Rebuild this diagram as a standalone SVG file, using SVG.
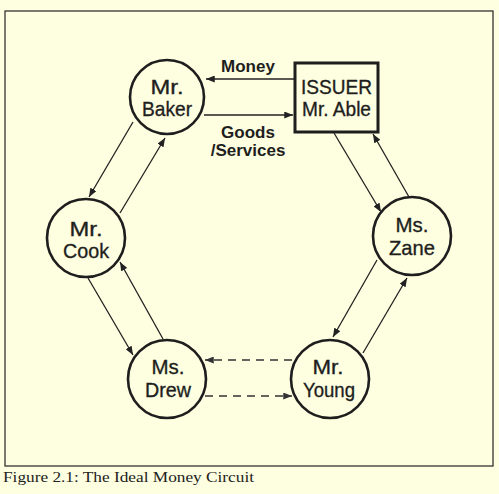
<svg xmlns="http://www.w3.org/2000/svg" width="499" height="494" viewBox="0 0 499 494">
<defs>
<marker id="ah" viewBox="0 0 10 8" refX="10" refY="4" markerWidth="9" markerHeight="7" markerUnits="userSpaceOnUse" orient="auto">
<path d="M0,0 L10,4 L0,8 Z" fill="#222"/>
</marker>
<marker id="ahd" viewBox="0 0 10 8" refX="10" refY="4" markerWidth="9" markerHeight="7" markerUnits="userSpaceOnUse" orient="auto">
<path d="M0,0 L10,4 L0,8 Z" fill="#333"/>
</marker>
</defs>
<style>
.node{fill:none;stroke:#1e1e1e;stroke-width:2.6}
.nt{font-family:"Liberation Sans",Arial,sans-serif;font-size:21px;fill:#1e1e1e;stroke:#1e1e1e;stroke-width:0.35;text-anchor:middle}
.lbl{font-family:"Liberation Sans",Arial,sans-serif;font-size:17px;font-weight:bold;fill:#1e1e1e;text-anchor:middle}
.c{fill:none;stroke:#222;stroke-width:1.3;marker-end:url(#ah)}
.d{fill:none;stroke:#333;stroke-width:1.6;stroke-dasharray:8,6;marker-end:url(#ahd)}
</style>
<rect width="499" height="494" fill="#fefee0"/>
<rect x="5" y="11" width="488" height="455" fill="none" stroke="#333" stroke-width="1.3"/>
<text x="3" y="482" font-family="'Liberation Serif','Times New Roman',serif" font-size="15.5" fill="#222" textLength="251" lengthAdjust="spacingAndGlyphs">Figure 2.1: The Ideal Money Circuit</text>

<g id="connectors">
<line class="c" x1="294" y1="79" x2="206" y2="79"/>
<line class="c" x1="204" y1="115" x2="293" y2="115"/>
<line class="c" x1="133" y1="122" x2="89" y2="197"/>
<line class="c" x1="120" y1="213" x2="165" y2="138"/>
<line class="c" x1="88" y1="278" x2="133" y2="355"/>
<line class="c" x1="163" y1="339" x2="120" y2="262"/>
<line class="d" x1="292" y1="360" x2="205" y2="360"/>
<line class="d" x1="205" y1="396" x2="292" y2="396"/>
<line class="c" x1="377" y1="260" x2="333" y2="337"/>
<line class="c" x1="363" y1="353" x2="407" y2="278"/>
<line class="c" x1="334" y1="133" x2="381" y2="212"/>
<line class="c" x1="409" y1="197" x2="373" y2="134"/>
</g>

<g id="labels">
<text class="lbl" x="248" y="72">Money</text>
<text class="lbl" x="248" y="138">Goods</text>
<text class="lbl" x="248" y="156">/Services</text>
</g>

<g id="able">
<rect x="295" y="63" width="83" height="69" fill="none" stroke="#1e1e1e" stroke-width="3"/>
<text class="nt" x="336.5" y="94" textLength="71" lengthAdjust="spacingAndGlyphs">ISSUER</text>
<text class="nt" x="336.5" y="116" textLength="69" lengthAdjust="spacingAndGlyphs">Mr. Able</text>
</g>
<g id="baker">
<circle class="node" cx="167" cy="97" r="37"/>
<text class="nt" x="167" y="94" textLength="33" lengthAdjust="spacingAndGlyphs">Mr.</text>
<text class="nt" x="167" y="116" textLength="50" lengthAdjust="spacingAndGlyphs">Baker</text>
</g>
<g id="cook">
<circle class="node" cx="86" cy="238" r="39"/>
<text class="nt" x="86" y="236" textLength="33" lengthAdjust="spacingAndGlyphs">Mr.</text>
<text class="nt" x="86" y="258" textLength="46" lengthAdjust="spacingAndGlyphs">Cook</text>
</g>
<g id="zane">
<circle class="node" cx="412" cy="236" r="39"/>
<text class="nt" x="412" y="232" textLength="33" lengthAdjust="spacingAndGlyphs">Ms.</text>
<text class="nt" x="412" y="255" textLength="46" lengthAdjust="spacingAndGlyphs">Zane</text>
</g>
<g id="drew">
<circle class="node" cx="167" cy="379" r="39"/>
<text class="nt" x="168" y="374" textLength="33" lengthAdjust="spacingAndGlyphs">Ms.</text>
<text class="nt" x="168" y="397" textLength="46" lengthAdjust="spacingAndGlyphs">Drew</text>
</g>
<g id="young">
<circle class="node" cx="330" cy="379" r="39"/>
<text class="nt" x="328" y="374" textLength="31" lengthAdjust="spacingAndGlyphs">Mr.</text>
<text class="nt" x="329" y="397" textLength="52" lengthAdjust="spacingAndGlyphs">Young</text>
</g>
</svg>
